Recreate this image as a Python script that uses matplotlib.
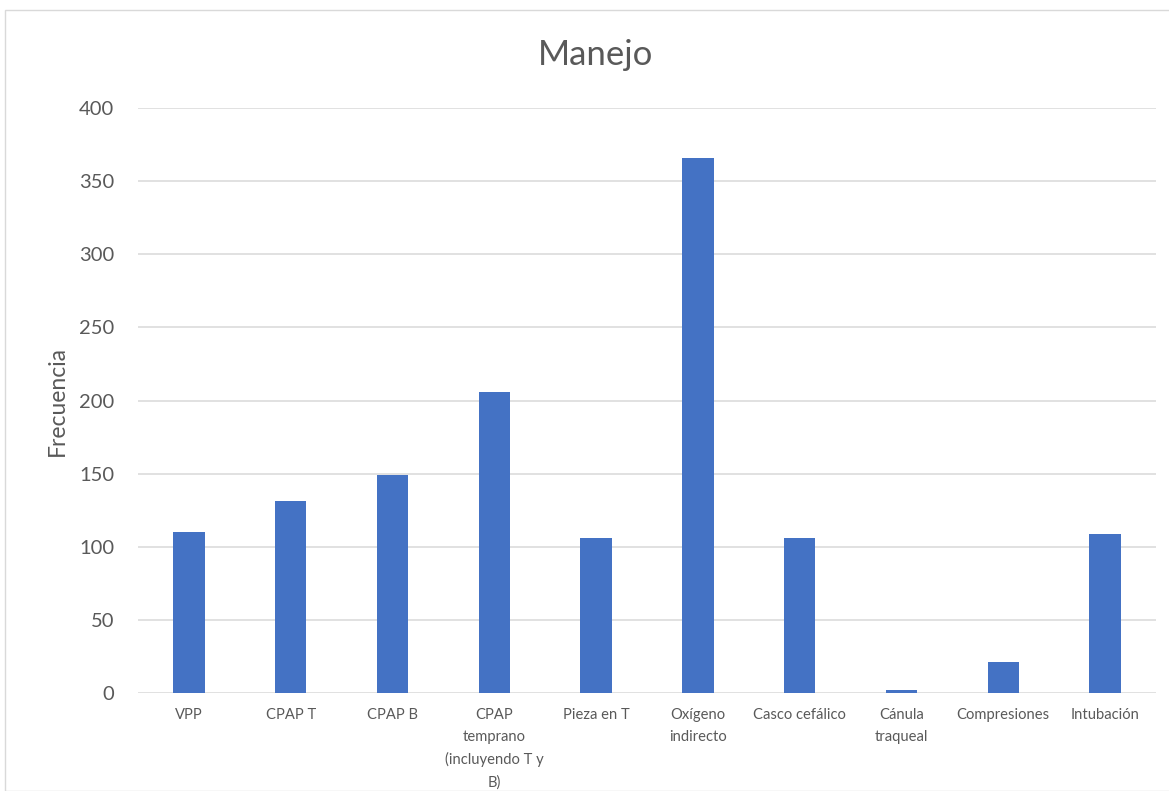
import matplotlib
matplotlib.use("Agg")
import matplotlib.pyplot as plt
from matplotlib.patches import Rectangle

# Frecuencia de cada tipo de manejo
categorias = [
    "VPP",
    "CPAP T",
    "CPAP B",
    "CPAP\ntemprano\n(incluyendo T y\nB)",
    "Pieza en T",
    "Oxígeno\nindirecto",
    "Casco cefálico",
    "Cánula\ntraqueal",
    "Compresiones",
    "Intubación",
]
frecuencias = [110, 131, 149, 206, 106, 366, 106, 2, 21, 109]
ticks_y = [0, 50, 100, 150, 200, 250, 300, 350, 400]

plt.rcParams["font.family"] = ["Lato", "DejaVu Sans"]
texto = "#595959"
rejilla = "#d9d9d9"
barra = "#4472C4"

W, H = 1169, 791
fig = plt.figure(figsize=(W / 100, H / 100), dpi=100)

# Marco del gráfico
fig.patches.append(Rectangle((5 / W, 0.5 / H), 1.2, (H - 10.5) / H,
                             transform=fig.transFigure, fill=False,
                             edgecolor=rejilla, linewidth=1.0))

ax = fig.add_axes([138 / W, (H - 693) / H, (1156 - 138) / W, (693 - 108) / H])

x = range(len(categorias))
ax.bar(x, frecuencias, width=0.31, color=barra, zorder=3)

ax.set_xlim(-0.5, len(categorias) - 0.5)
ax.set_ylim(0, 400)
ax.set_yticks(ticks_y)
ax.set_xticks(list(x))
ax.set_xticklabels(categorias, fontsize=10.6, color=texto, linespacing=1.7,
                   va="top")
ax.tick_params(axis="x", length=0, pad=11)
ax.tick_params(axis="y", length=0, pad=17, labelsize=14.5, labelcolor=texto)

ax.grid(axis="y", color=rejilla, linewidth=1.1, zorder=0)
for s in ax.spines.values():
    s.set_visible(False)

ax.set_ylabel("Frecuencia", fontsize=16.5, color=texto, labelpad=8)
fig.text(596 / W, 1 - 55 / H, "Manejo", fontsize=25, color=texto,
         ha="center", va="center")

fig.savefig("out.png", dpi=100)
